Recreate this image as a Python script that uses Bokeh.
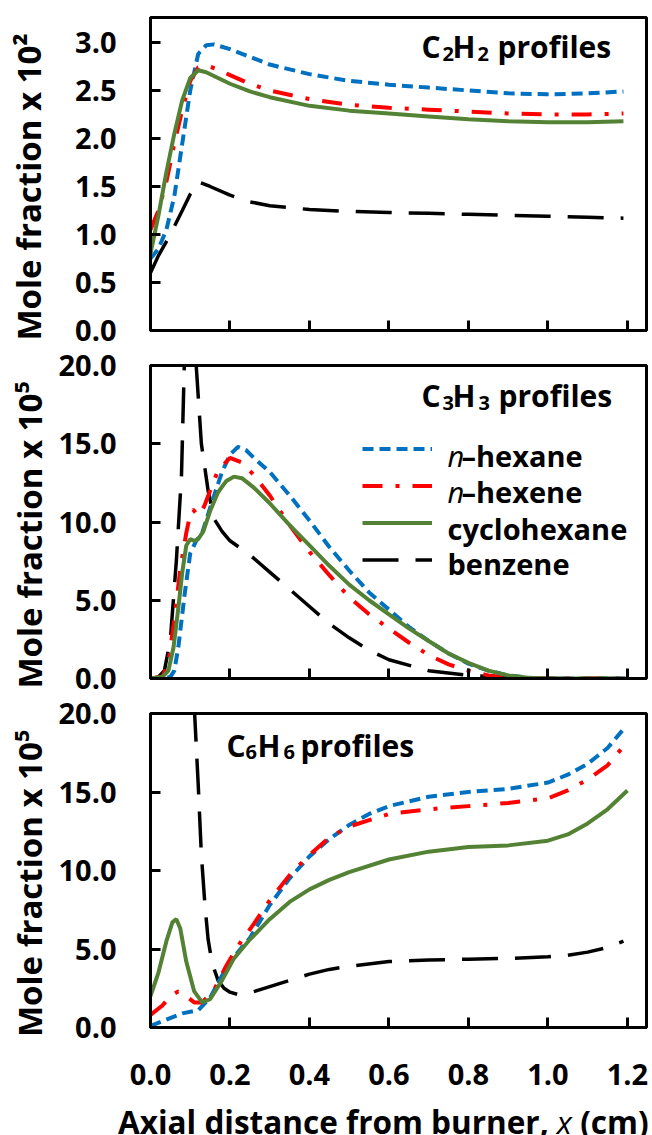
from bokeh.plotting import figure
from bokeh.models import (Range1d, FixedTicker, NumeralTickFormatter, Label, Legend, LegendItem,
                          CustomJSTickFormatter, Div)
from bokeh.layouts import column
from bokeh.embed import file_html
from bokeh.resources import INLINE

FONT = "Open Sans"

# ---------------- data ----------------
x_ticks = [0.0, 0.2, 0.4, 0.6, 0.8, 1.0, 1.2]
c2h2_ticks = [0.0, 0.5, 1.0, 1.5, 2.0, 2.5, 3.0]
c3h3_ticks = [0.0, 5.0, 10.0, 15.0, 20.0]
c6h6_ticks = [0.0, 5.0, 10.0, 15.0, 20.0]
fuel_prefix = ["n", "n", "", ""]
fuel_names = ["–hexane", "–hexene", "cyclohexane", "benzene"]

# C2H2 (mole fraction x 10^2)
c2h2_x_hexane = [0, 0.02, 0.04, 0.06, 0.08, 0.1, 0.12, 0.14, 0.16, 0.2, 0.25, 0.3, 0.4, 0.5, 0.6, 0.7, 0.8, 0.9, 1.0, 1.1, 1.19]
c2h2_hexane = [0.75, 0.85, 1.05, 1.4, 1.95, 2.5, 2.88, 2.97, 2.98, 2.93, 2.85, 2.77, 2.67, 2.6, 2.56, 2.53, 2.5, 2.47, 2.46, 2.47, 2.49]
c2h2_x_hexene = [0, 0.02, 0.04, 0.06, 0.08, 0.1, 0.12, 0.14, 0.17, 0.2, 0.25, 0.3, 0.4, 0.5, 0.6, 0.7, 0.8, 0.9, 1.0, 1.1, 1.19]
c2h2_hexene = [1.05, 1.25, 1.55, 1.95, 2.3, 2.6, 2.74, 2.76, 2.72, 2.66, 2.57, 2.5, 2.41, 2.35, 2.32, 2.3, 2.28, 2.26, 2.25, 2.25, 2.26]
c2h2_x_cyclo = [0, 0.02, 0.04, 0.06, 0.08, 0.1, 0.12, 0.14, 0.17, 0.2, 0.25, 0.3, 0.4, 0.5, 0.6, 0.7, 0.8, 0.9, 1.0, 1.1, 1.19]
c2h2_cyclo = [0.8, 1.2, 1.65, 2.05, 2.4, 2.63, 2.71, 2.69, 2.63, 2.57, 2.49, 2.43, 2.34, 2.29, 2.26, 2.23, 2.2, 2.18, 2.17, 2.17, 2.18]
c2h2_x_benzene = [0, 0.02, 0.05, 0.08, 0.1, 0.12, 0.15, 0.2, 0.25, 0.3, 0.4, 0.5, 0.6, 0.7, 0.8, 0.9, 1.0, 1.1, 1.19]
c2h2_benzene = [0.6, 0.78, 1.0, 1.25, 1.42, 1.55, 1.5, 1.41, 1.34, 1.3, 1.26, 1.24, 1.23, 1.22, 1.21, 1.2, 1.19, 1.18, 1.17]

# C3H3 (mole fraction x 10^5)
c3h3_x_hexane = [0, 0.03, 0.05, 0.06, 0.07, 0.086, 0.1, 0.115, 0.13, 0.155, 0.18, 0.2, 0.22, 0.24, 0.26, 0.3, 0.35, 0.4, 0.45, 0.5, 0.55, 0.6, 0.65, 0.7, 0.75, 0.8, 0.85, 0.9, 0.95, 1.0, 1.2]
c3h3_hexane = [0, 0, 0.1, 0.5, 2.0, 5.4, 8.0, 8.8, 9.3, 11.3, 13.2, 14.3, 14.8, 14.6, 14.1, 13.2, 11.7, 10.1, 8.4, 6.9, 5.5, 4.4, 3.3, 2.4, 1.6, 0.95, 0.5, 0.2, 0.05, 0, 0]
c3h3_x_hexene = [0, 0.03, 0.045, 0.06, 0.075, 0.09, 0.1, 0.107, 0.12, 0.135, 0.15, 0.17, 0.2, 0.23, 0.26, 0.3, 0.35, 0.4, 0.45, 0.5, 0.55, 0.6, 0.65, 0.7, 0.75, 0.8, 0.85, 0.9, 0.95, 1.2]
c3h3_hexene = [0, 0.1, 1.0, 3.8, 7.0, 9.3, 10.5, 10.8, 10.4, 11.0, 12.0, 13.3, 14.1, 13.8, 13.0, 11.7, 9.8, 8.1, 6.6, 5.2, 4.1, 3.2, 2.3, 1.5, 0.9, 0.5, 0.2, 0.05, 0, 0]
c3h3_x_cyclo = [0, 0.03, 0.045, 0.058, 0.07, 0.08, 0.09, 0.1, 0.11, 0.12, 0.133, 0.15, 0.17, 0.19, 0.21, 0.23, 0.26, 0.3, 0.35, 0.4, 0.45, 0.5, 0.55, 0.6, 0.65, 0.7, 0.75, 0.8, 0.85, 0.9, 0.95, 1.0, 1.2]
c3h3_cyclo = [0, 0.1, 0.5, 2.0, 4.5, 6.8, 8.5, 8.9, 8.8, 8.9, 9.4, 10.7, 11.9, 12.6, 12.9, 12.8, 12.2, 11.2, 9.8, 8.5, 7.2, 6.0, 5.0, 4.1, 3.2, 2.4, 1.6, 1.0, 0.5, 0.2, 0.05, 0, 0]
c3h3_x_benzene = [0, 0.02, 0.035, 0.05, 0.065, 0.078, 0.085, 0.1, 0.115, 0.128, 0.145, 0.16, 0.18, 0.2, 0.25, 0.3, 0.35, 0.4, 0.45, 0.5, 0.55, 0.6, 0.7, 0.8, 0.9, 1.0, 1.2]
c3h3_benzene = [0, 0.1, 0.5, 2.5, 7.5, 13.0, 20.0, 25.0, 20.0, 15.0, 12.0, 10.2, 9.4, 8.8, 7.9, 6.8, 5.7, 4.6, 3.5, 2.6, 1.8, 1.2, 0.5, 0.2, 0.05, 0, 0]

# C6H6 (mole fraction x 10^5)
c6h6_x_hexane = [0, 0.04, 0.08, 0.12, 0.15, 0.18, 0.21, 0.25, 0.3, 0.35, 0.4, 0.45, 0.5, 0.55, 0.6, 0.7, 0.8, 0.9, 1.0, 1.05, 1.1, 1.15, 1.19]
c6h6_hexane = [0.1, 0.5, 0.9, 1.1, 1.9, 3.3, 4.5, 5.7, 7.8, 9.5, 10.9, 12.0, 12.9, 13.6, 14.1, 14.7, 15.0, 15.2, 15.6, 16.1, 16.8, 17.8, 19.0]
c6h6_x_hexene = [0, 0.03, 0.05, 0.07, 0.09, 0.11, 0.13, 0.16, 0.19, 0.22, 0.26, 0.3, 0.35, 0.4, 0.45, 0.5, 0.6, 0.7, 0.8, 0.9, 1.0, 1.05, 1.1, 1.15, 1.19]
c6h6_hexene = [0.8, 1.4, 2.0, 2.3, 2.0, 1.6, 1.6, 2.4, 3.9, 5.2, 6.6, 8.1, 9.7, 11.0, 12.1, 12.8, 13.6, 13.9, 14.1, 14.3, 14.6, 15.1, 15.8, 16.7, 17.9]
c6h6_x_cyclo = [0, 0.02, 0.04, 0.055, 0.065, 0.075, 0.09, 0.11, 0.13, 0.15, 0.18, 0.21, 0.25, 0.3, 0.35, 0.4, 0.45, 0.5, 0.6, 0.7, 0.8, 0.9, 1.0, 1.05, 1.1, 1.15, 1.2]
c6h6_cyclo = [2.0, 3.5, 5.5, 6.7, 6.9, 6.3, 4.2, 2.3, 1.6, 1.8, 3.0, 4.4, 5.6, 6.9, 8.0, 8.8, 9.4, 9.9, 10.7, 11.2, 11.5, 11.6, 11.9, 12.3, 13.0, 13.9, 15.1]
c6h6_x_benzene = [0.11, 0.12, 0.128, 0.137, 0.145, 0.155, 0.17, 0.185, 0.2, 0.22, 0.25, 0.3, 0.35, 0.4, 0.45, 0.5, 0.6, 0.7, 0.8, 0.9, 1.0, 1.05, 1.1, 1.15, 1.19]
c6h6_benzene = [20.5, 15.5, 11.0, 7.8, 5.6, 4.1, 3.0, 2.5, 2.25, 2.1, 2.2, 2.6, 3.0, 3.4, 3.7, 3.9, 4.2, 4.3, 4.35, 4.4, 4.5, 4.6, 4.8, 5.1, 5.5]

# ---------------- styles ----------------
STY = {
    "hexane": dict(line_color="#0070C0", line_width=4, line_dash="11 6"),
    "hexene": dict(line_color="#FF0000", line_width=4, line_dash="20 13 4 13"),
    "cyclo": dict(line_color="#548235", line_width=4),
    "benzene": dict(line_color="black", line_width=3.5, line_dash="36 17"),
}
XMAX = 1.248
FRAME_LEFT = 150
TXT_SHIFT = 12  # empirical baseline correction for Label text
NBSP = "\u00a0"


def style_axis(ax):
    ax.axis_line_width = 3
    ax.axis_line_color = "black"
    ax.major_tick_in = 10
    ax.major_tick_out = 0
    ax.major_tick_line_width = 3
    ax.major_tick_line_color = "black"
    ax.minor_tick_in = 0
    ax.minor_tick_out = 0
    ax.major_label_text_font = FONT
    ax.major_label_text_font_style = "bold"
    ax.major_label_text_font_size = "29px"
    ax.major_label_text_color = "black"
    ax.axis_label_text_font = FONT
    ax.axis_label_text_font_style = "bold"
    ax.axis_label_text_font_size = "33px"
    ax.axis_label_text_color = "black"


def panel(height, ymax, yticks, ylabel, ystandoff, top, bottom, show_x):
    p = figure(width=652, height=height, x_range=Range1d(0, XMAX), y_range=Range1d(0, ymax),
               output_backend="svg", toolbar_location=None,
               min_border_left=FRAME_LEFT, min_border_right=6, min_border_top=top, min_border_bottom=bottom)
    p.outline_line_color = "black"
    p.outline_line_width = 3
    p.grid.visible = False
    p.background_fill_color = "white"
    p.border_fill_color = "white"
    ya = p.yaxis[0]
    style_axis(ya)
    ya.ticker = FixedTicker(ticks=yticks)
    ya.formatter = NumeralTickFormatter(format="0.0")
    ya.major_label_standoff = 34
    ya.axis_label = ylabel + NBSP * 3
    ya.axis_label_standoff = ystandoff
    xa = p.xaxis[0]
    style_axis(xa)
    xa.ticker = FixedTicker(ticks=x_ticks)
    if show_x:
        xa.formatter = NumeralTickFormatter(format="0.0")
        xa.major_label_standoff = 36
    else:
        xa.formatter = CustomJSTickFormatter(code="return ''")
        xa.major_label_text_font_size = "1px"
        xa.major_label_standoff = 0
    return p


def add_lines(p, xs, ys):
    rs = []
    for key, x, y in zip(["benzene", "hexane", "hexene", "cyclo"], xs, ys):
        rs.append(p.line(x, y, **STY[key]))
    return rs


def txt(p, text, sx, sy, size, style="bold", align="left"):
    p.add_layout(Label(x=sx, y=sy + TXT_SHIFT, x_units="screen", y_units="screen", text=text,
                       text_font=FONT, text_font_style=style, text_font_size=size,
                       text_align=align, text_baseline="alphabetic", text_color="black"))


def chem_title(p, sym, num, lefts, base, sub_base, frame_bottom):
    # lefts: page x of C, subscript, H, subscript, "profiles"
    pieces = [(sym[0], lefts[0], False), (num, lefts[1], True), (sym[1], lefts[2], False),
              (num, lefts[3], True), ("profiles", lefts[4], False)]
    for t, lx, sub in pieces:
        if sub:
            txt(p, t, lx - FRAME_LEFT, frame_bottom - sub_base, "20px")
        else:
            txt(p, t, lx - FRAME_LEFT, frame_bottom - base, "30px")


# ---------------- panel 1 : C2H2 ----------------
p1 = panel(346, 3.26, c2h2_ticks, "Mole fraction x 10²", 21, 17, 16, False)
add_lines(p1, [c2h2_x_benzene, c2h2_x_hexane, c2h2_x_hexene, c2h2_x_cyclo],
          [c2h2_benzene, c2h2_hexane, c2h2_hexene, c2h2_cyclo])
chem_title(p1, "CH", "2", [421, 442, 452, 477, 497], 58, 65, 330)

# ---------------- panel 2 : C3H3 ----------------
p2 = panel(348, 20.0, c3h3_ticks, "Mole fraction x 10⁵", 3, 19, 16, False)
r2 = add_lines(p2, [c3h3_x_benzene, c3h3_x_hexane, c3h3_x_hexene, c3h3_x_cyclo],
               [c3h3_benzene, c3h3_hexane, c3h3_hexene, c3h3_cyclo])
chem_title(p2, "CH", "3", [421, 442, 452, 478, 498], 407, 414, 678)
legend = Legend(items=[LegendItem(label=" ", renderers=[r2[1]]),
                       LegendItem(label=" ", renderers=[r2[2]]),
                       LegendItem(label=" ", renderers=[r2[3]]),
                       LegendItem(label=" ", renderers=[r2[0]])],
                location=(212, 100), padding=0, margin=0, spacing=0,
                glyph_width=70, glyph_height=37, label_standoff=0, label_width=1, label_height=1,
                label_text_font_size="2px", border_line_alpha=0, background_fill_alpha=0)
p2.add_layout(legend)
for pre, name, base in zip(fuel_prefix, fuel_names, [467, 503, 540, 575]):
    if pre:
        txt(p2, pre, 447 - FRAME_LEFT, 678 - base, "29px", style="italic")
        txt(p2, name, 461 - FRAME_LEFT, 678 - base, "29px")
    else:
        txt(p2, name, 447 - FRAME_LEFT, 678 - base, "29px")

# ---------------- panel 3 : C6H6 ----------------
p3 = panel(415, 20.0, c6h6_ticks, "Mole fraction x 10⁵", 3, 19, 82, True)
add_lines(p3, [c6h6_x_benzene, c6h6_x_hexane, c6h6_x_hexene, c6h6_x_cyclo],
          [c6h6_benzene, c6h6_hexane, c6h6_hexene, c6h6_cyclo])
chem_title(p3, "CH", "6", [226, 245, 257, 283, 300], 757, 763, 1027)

# ---------------- x-axis title (italic x) ----------------
xtitle = Div(
    text=("<div style=\"padding-left:118px;font-family:'Open Sans';font-weight:bold;"
          "font-size:31.5px;line-height:26px;white-space:nowrap;color:black;\">"
          "Axial distance from burner, <span style=\"font-style:italic;font-weight:normal;\">x</span> (cm)</div>"),
    width=652, height=26, margin=(0, 0, 0, 0))

layout = column(p1, p2, p3, xtitle, spacing=0)
open("out.html", "w").write(file_html(layout, INLINE))
